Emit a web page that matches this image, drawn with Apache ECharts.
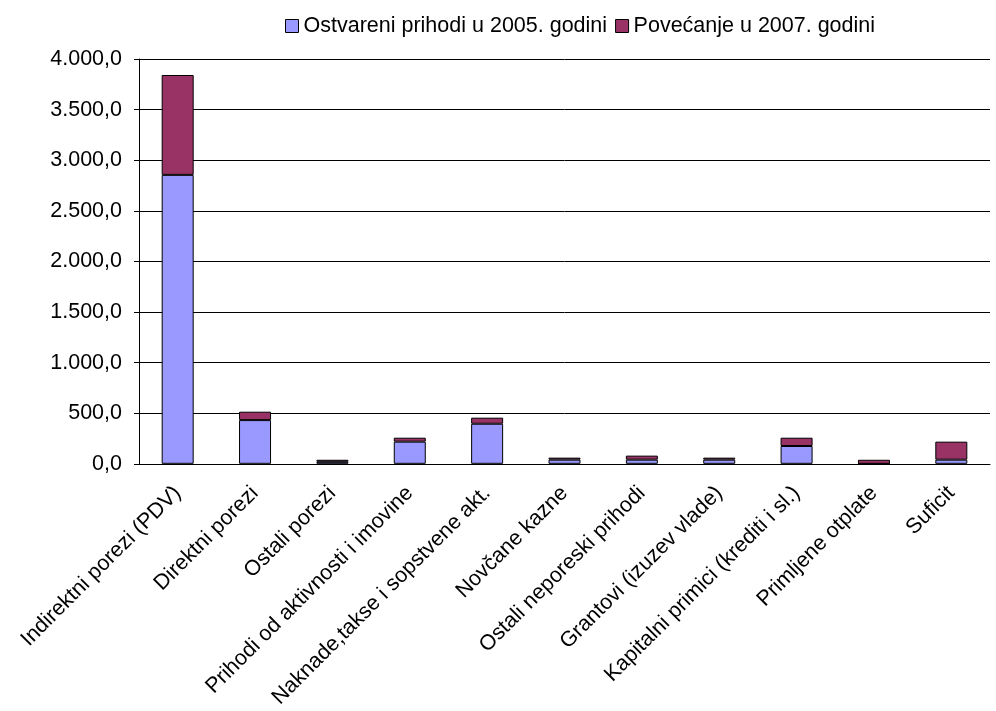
<!DOCTYPE html>
<html>
<head>
<meta charset="utf-8">
<script src="https://cdn.jsdelivr.net/npm/echarts@6/dist/echarts.min.js"></script>
<style>html,body{margin:0;padding:0;background:#fff}#c{width:996px;height:711px}</style>
</head>
<body>
<div id="c"></div>
<script>
const categories = ['Indirektni porezi (PDV)', 'Direktni porezi', 'Ostali porezi', 'Prihodi od aktivnosti i imovine', 'Naknade,takse i sopstvene akt.', 'Novčane kazne', 'Ostali neporeski prihodi', 'Grantovi (izuzev vlade)', 'Kapitalni primici (krediti i sl.)', 'Primljene otplate', 'Suficit'];
const ostvareni2005 = [2855, 432, 20, 219, 396, 41, 41, 41, 176, 0, 41];
const povecanje2007 = [987, 83, 20, 39, 60, 20, 40, 20, 82, 40, 178];
const seriesNames = ['Ostvareni prihodi u 2005. godini', 'Povećanje u 2007. godini'];

const fmt = v => {
  const s = Math.round(v).toString().replace(/\B(?=(\d{3})+(?!\d))/g, '.');
  return s + ',0';
};
const font = 'Liberation Sans, Arial, sans-serif';
const chart = echarts.init(document.getElementById('c'), null, {renderer: 'canvas'});
chart.setOption({
  animation: false,
  backgroundColor: '#fff',
  legend: {
    top: 10, left: 280, itemWidth: 13, itemHeight: 13, itemGap: 8,
    icon: 'rect',
    textStyle: {fontFamily: font, fontSize: 21.5, color: '#000'},
    itemStyle: {borderColor: '#000', borderWidth: 1},
    data: seriesNames
  },
  grid: {left: 139, right: 6, top: 59, bottom: 246, containLabel: false},
  xAxis: {
    type: 'category', data: categories,
    axisLine: {lineStyle: {color: '#000', width: 1}},
    axisTick: {show: false},
    axisLabel: {rotate: 45, interval: 0, margin: 26, color: '#000', fontFamily: font, fontSize: 21.5}
  },
  yAxis: {
    type: 'value', min: 0, max: 4000, interval: 500,
    axisLine: {show: true, lineStyle: {color: '#000', width: 1}},
    axisTick: {show: true, length: 5, lineStyle: {color: '#000'}},
    splitLine: {lineStyle: {color: '#000', width: 1}},
    axisLabel: {formatter: fmt, margin: 17, color: '#000', fontFamily: font, fontSize: 21.5}
  },
  series: [
    {name: seriesNames[0], type: 'bar', stack: 'a', data: ostvareni2005, barWidth: 32,
     itemStyle: {color: '#9999FF', borderColor: '#000', borderWidth: 1}},
    {name: seriesNames[1], type: 'bar', stack: 'a', data: povecanje2007, barWidth: 32,
     itemStyle: {color: '#993366', borderColor: '#000', borderWidth: 1}}
  ]
});
</script>
</body>
</html>
